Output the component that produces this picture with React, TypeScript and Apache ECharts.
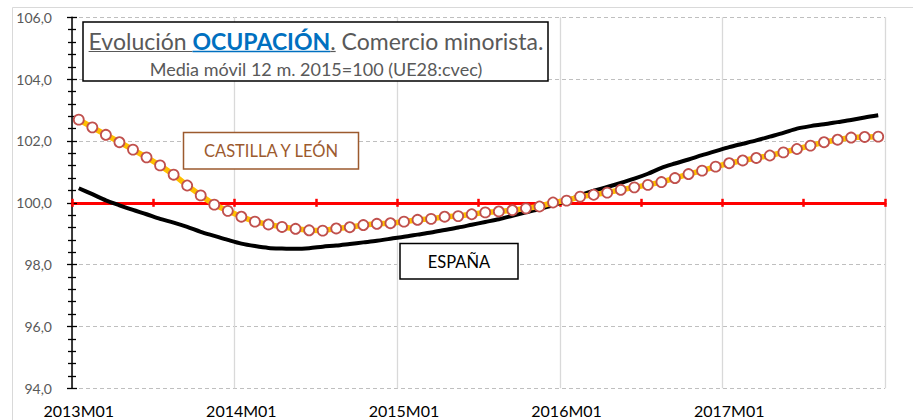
import React, { useEffect, useRef } from "react";
import * as echarts from "echarts";

const categories = [
  "2013M01","2013M02","2013M03","2013M04","2013M05","2013M06","2013M07","2013M08","2013M09","2013M10","2013M11","2013M12",
  "2014M01","2014M02","2014M03","2014M04","2014M05","2014M06","2014M07","2014M08","2014M09","2014M10","2014M11","2014M12",
  "2015M01","2015M02","2015M03","2015M04","2015M05","2015M06","2015M07","2015M08","2015M09","2015M10","2015M11","2015M12",
  "2016M01","2016M02","2016M03","2016M04","2016M05","2016M06","2016M07","2016M08","2016M09","2016M10","2016M11","2016M12",
  "2017M01","2017M02","2017M03","2017M04","2017M05","2017M06","2017M07","2017M08","2017M09","2017M10","2017M11","2017M12",
];

const castillaLeon = [
  102.69, 102.44, 102.2, 101.96, 101.72, 101.47, 101.21, 100.91, 100.56, 100.24, 99.94, 99.74,
  99.55, 99.39, 99.3, 99.22, 99.16, 99.11, 99.1, 99.17, 99.21, 99.28, 99.32, 99.34,
  99.39, 99.45, 99.48, 99.55, 99.57, 99.63, 99.69, 99.72, 99.76, 99.82, 99.88, 100.01,
  100.07, 100.2, 100.26, 100.33, 100.42, 100.5, 100.58, 100.67, 100.8, 100.93, 101.04, 101.17,
  101.28, 101.37, 101.45, 101.53, 101.63, 101.74, 101.85, 101.96, 102.04, 102.11, 102.13, 102.14,
];

const espana = [
  100.47, 100.28, 100.08, 99.92, 99.77, 99.63, 99.48, 99.36, 99.22, 99.06, 98.93, 98.8,
  98.68, 98.6, 98.54, 98.52, 98.51, 98.53, 98.58, 98.62, 98.67, 98.72, 98.77, 98.84,
  98.9, 98.97, 99.04, 99.12, 99.2, 99.29, 99.38, 99.47, 99.58, 99.69, 99.8, 99.92,
  100.06, 100.25, 100.39, 100.51, 100.64, 100.78, 100.94, 101.13, 101.27, 101.4, 101.54, 101.67,
  101.8, 101.91, 102.02, 102.14, 102.26, 102.4, 102.48, 102.54, 102.61, 102.68, 102.76, 102.83,
];

const yMin = 94;
const yMax = 106;
const yStep = 2;
const refValue = 100;

const titleA = "Evolución ";
const titleB = "OCUPACIÓN";
const titleC = ".";
const titleD = " Comercio minorista.";
const subtitle = "Media móvil 12 m. 2015=100 (UE28:cvec)";
const labelCyL = "CASTILLA Y LEÓN";
const labelEsp = "ESPAÑA";

const FONT = "Lato";

export default function App() {
  const ref = useRef<HTMLDivElement>(null);

  useEffect(() => {
    if (!ref.current) return;
    const chart = echarts.init(ref.current, undefined, { renderer: "svg" });

    const H = 420;
    const gridLeft = 72;
    const gridRight = 28;
    const gridTop = 17.3;
    const gridBottom = 31.7;
    const plotH = H - gridTop - gridBottom;
    const refY = gridTop + ((yMax - refValue) / (yMax - yMin)) * plotH;

    const canvas = document.createElement("canvas");
    const ctx = canvas.getContext("2d")!;
    const tSize = 23;
    const measure = (t: string, f: string) => {
      ctx.font = f;
      return ctx.measureText(t).width;
    };
    const wA = measure(titleA, `${tSize}px ${FONT}`);
    const wB = measure(titleB, `bold ${tSize}px ${FONT}`);
    const wC = measure(titleC, `${tSize}px ${FONT}`);
    const wD = measure(titleD, `${tSize}px ${FONT}`);
    const total = wA + wB + wC + wD;
    const titleCx = 316;
    const startX = titleCx - total / 2;
    const titleY = 41;
    const ulY = 51.5;

    const yTickCommon = {
      show: true,
      length: 5,
      lineStyle: { color: "#000", width: 1.3 },
    };
    const yMinorCommon = {
      show: true,
      splitNumber: 5,
      length: 4,
      lineStyle: { color: "#000", width: 1.3 },
    };

    chart.setOption({
      animation: false,
      backgroundColor: "#fff",
      grid: [
        { left: gridLeft, right: gridRight, top: gridTop, bottom: gridBottom },
        { left: gridLeft, right: gridRight, top: gridTop, bottom: H - refY },
      ],
      xAxis: [
        {
          type: "category",
          gridIndex: 0,
          position: "bottom",
          data: categories,
          boundaryGap: true,
          axisLine: { show: false },
          axisTick: { show: false },
          axisLabel: {
            interval: 11,
            color: "#000",
            fontFamily: FONT,
            fontSize: 16,
            margin: 14,
          },
          splitLine: {
            show: true,
            interval: 11,
            lineStyle: { color: "#d9d9d9", width: 1.3 },
          },
        },
        {
          type: "category",
          gridIndex: 1,
          position: "bottom",
          data: categories,
          boundaryGap: true,
          axisLine: { show: true, lineStyle: { color: "#ff0000", width: 3 } },
          axisTick: {
            show: true,
            interval: 5,
            length: 4,
            lineStyle: { color: "#ff0000", width: 2.5 },
          },
          axisLabel: { show: false },
          splitLine: { show: false },
        },
        {
          type: "category",
          gridIndex: 1,
          position: "bottom",
          offset: 0,
          data: categories,
          boundaryGap: true,
          axisLine: { show: false },
          axisTick: {
            show: true,
            inside: true,
            interval: 5,
            length: 4,
            lineStyle: { color: "#ff0000", width: 2.5 },
          },
          axisLabel: { show: false },
          splitLine: { show: false },
        },
      ],
      yAxis: [
        {
          type: "value",
          gridIndex: 0,
          position: "left",
          min: yMin,
          max: yMax,
          interval: yStep,
          axisLine: { show: true, lineStyle: { color: "#000", width: 1.5 } },
          axisTick: yTickCommon,
          minorTick: yMinorCommon,
          axisLabel: {
            color: "#595959",
            fontFamily: FONT,
            fontSize: 14,
            margin: 20,
            formatter: (v: number) => v.toFixed(1).replace(".", ","),
          },
          splitLine: {
            show: true,
            lineStyle: { color: "#bfbfbf", width: 1.2, type: [4, 3] },
          },
        },
        {
          type: "value",
          gridIndex: 0,
          position: "left",
          offset: 0,
          min: yMin,
          max: yMax,
          interval: yStep,
          axisLine: { show: false },
          axisTick: { ...yTickCommon, inside: true },
          minorTick: yMinorCommon,
          axisLabel: { show: false },
          splitLine: { show: false },
        },
        {
          type: "value",
          gridIndex: 1,
          min: 0,
          max: 1,
          show: false,
        },
      ],
      series: [
        {
          name: labelEsp,
          type: "line",
          xAxisIndex: 0,
          yAxisIndex: 0,
          data: espana,
          showSymbol: false,
          symbol: "none",
          smooth: 0.3,
          lineStyle: { color: "#000", width: 4 },
          z: 3,
        },
        {
          name: labelCyL,
          type: "line",
          xAxisIndex: 0,
          yAxisIndex: 0,
          data: castillaLeon,
          symbol: "circle",
          symbolSize: 10,
          showSymbol: true,
          showAllSymbol: true,
          lineStyle: { color: "#ffc000", width: 5.5 },
          itemStyle: { color: "#fff", borderColor: "#c0504d", borderWidth: 1.8 },
          z: 4,
        },
      ],
      graphic: [
        {
          type: "rect",
          z: -10,
          silent: true,
          shape: { x: 12.5, y: 7.5, width: 1000, height: 1000 },
          style: { fill: "none", stroke: "#d9d9d9", lineWidth: 1 },
        },
        {
          type: "rect",
          z: 50,
          shape: { x: 83, y: 22, width: 465, height: 59 },
          style: { fill: "#fff", stroke: "#000", lineWidth: 1.5 },
        },
        {
          type: "text",
          z: 51,
          x: startX,
          y: titleY,
          style: {
            text: `{a|${titleA}}{b|${titleB}}{a|${titleC}${titleD}}`,
            align: "left",
            verticalAlign: "middle",
            rich: {
              a: { fontFamily: FONT, fontSize: tSize, fill: "#595959", color: "#595959" },
              b: {
                fontFamily: FONT,
                fontSize: tSize,
                fontWeight: "bold",
                fill: "#0070c0",
                color: "#0070c0",
              },
            },
          },
        },
        {
          type: "line",
          z: 51,
          shape: { x1: startX, y1: ulY, x2: startX + wA, y2: ulY },
          style: { stroke: "#595959", lineWidth: 1.2 },
        },
        {
          type: "line",
          z: 51,
          shape: { x1: startX + wA, y1: ulY, x2: startX + wA + wB, y2: ulY },
          style: { stroke: "#0070c0", lineWidth: 1.5 },
        },
        {
          type: "line",
          z: 51,
          shape: { x1: startX + wA + wB, y1: ulY, x2: startX + wA + wB + wC, y2: ulY },
          style: { stroke: "#595959", lineWidth: 1.2 },
        },
        {
          type: "text",
          z: 51,
          x: titleCx,
          y: 69,
          style: {
            text: subtitle,
            fontFamily: FONT,
            fontSize: 18,
            fill: "#595959",
            align: "center",
            verticalAlign: "middle",
          },
        },
        {
          type: "rect",
          z: 50,
          shape: { x: 183.5, y: 132.5, width: 175, height: 36.5 },
          style: { fill: "#fff", stroke: "#9c5a2e", lineWidth: 1.5 },
        },
        {
          type: "text",
          z: 51,
          x: 271,
          y: 151,
          style: {
            text: labelCyL,
            fontFamily: FONT,
            fontSize: 16.5,
            fill: "#9c5a2e",
            align: "center",
            verticalAlign: "middle",
          },
        },
        {
          type: "rect",
          z: 50,
          shape: { x: 400, y: 243.5, width: 118, height: 35.5 },
          style: { fill: "#fff", stroke: "#000", lineWidth: 1.5 },
        },
        {
          type: "text",
          z: 51,
          x: 459,
          y: 262,
          style: {
            text: labelEsp,
            fontFamily: FONT,
            fontSize: 16.5,
            fill: "#000",
            align: "center",
            verticalAlign: "middle",
          },
        },
      ],
    });

    return () => chart.dispose();
  }, []);

  return (
    <div
      ref={ref}
      style={{ position: "fixed", left: 0, top: 0, width: 913, height: 420 }}
    />
  );
}
